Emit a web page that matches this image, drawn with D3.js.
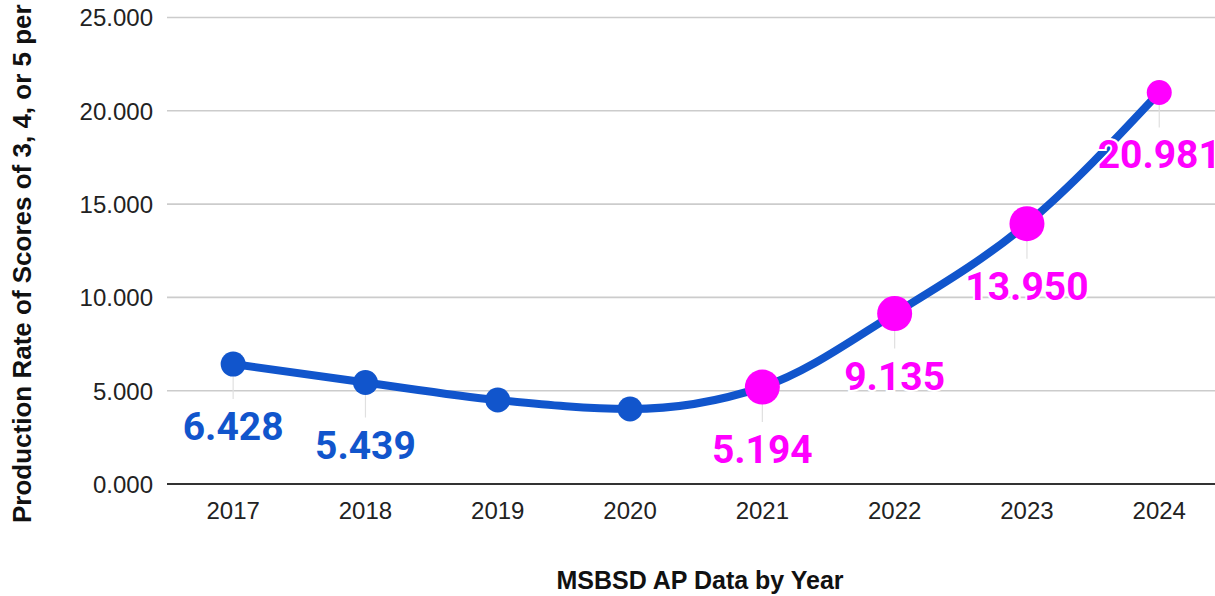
<!DOCTYPE html>
<html>
<head>
<meta charset="utf-8">
<script src="https://cdn.jsdelivr.net/npm/d3@7"></script>
<style>
  html, body { margin: 0; padding: 0; background: #fff; overflow: hidden; }
  svg { display: block; }
</style>
</head>
<body>
<svg id="chart" width="1215" height="596"></svg>
<script>
const years = ["2017", "2018", "2019", "2020", "2021", "2022", "2023", "2024"];
const values = [6.428, 5.439, 4.50, 4.02, 5.194, 9.135, 13.950, 20.981];
const pointColors = ["#1155cc", "#1155cc", "#1155cc", "#1155cc", "#ff00ff", "#ff00ff", "#ff00ff", "#ff00ff"];
const pointSizes = [12.5, 12.5, 12.5, 12.5, 17.5, 17.5, 17.5, 12.5];
const labelShown = [true, true, false, false, true, true, true, true];
const yTicks = [0, 5, 10, 15, 20, 25];
const xTitle = "MSBSD AP Data by Year";
const yTitle = "Production Rate of Scores of 3, 4, or 5 per";

const W = 1215, H = 596;
const svg = d3.select("#chart");

const x = d3.scaleBand().domain(years).range([167, 1225.4]);
const y = d3.scaleLinear().domain([0, 25]).range([484, 17.5]);
const cx = d => x(d) + x.bandwidth() / 2;

// gridlines
svg.append("g").selectAll("line").data(yTicks.filter(t => t !== 0)).join("line")
  .attr("x1", 167).attr("x2", W)
  .attr("y1", d => y(d)).attr("y2", d => y(d))
  .attr("stroke", "#cccccc").attr("stroke-width", 1.6);

// y axis labels
const yAxis = d3.axisLeft(y).tickValues(yTicks).tickFormat(d3.format(".3f")).tickSize(0).tickPadding(14);
const gy = svg.append("g").attr("transform", "translate(167,0)").call(yAxis);
gy.select(".domain").remove();
gy.selectAll("text").attr("font-family", "'Liberation Sans', Arial, sans-serif")
  .attr("font-size", 24).attr("fill", "#222").attr("dy", "0.35em");

// x axis
const xAxis = d3.axisBottom(x).tickSize(0).tickPadding(18);
const gx = svg.append("g").attr("transform", "translate(0,484)").call(xAxis);
gx.select(".domain").remove();
gx.selectAll("text").attr("font-family", "'Liberation Sans', Arial, sans-serif")
  .attr("font-size", 24).attr("fill", "#222");
svg.append("line").attr("x1", 167).attr("x2", W).attr("y1", y(0)).attr("y2", y(0))
  .attr("stroke", "#333").attr("stroke-width", 2);

const data = years.map((yr, i) => ({ yr, v: values[i], c: pointColors[i], r: pointSizes[i], show: labelShown[i] }));

// leader lines
svg.append("g").selectAll("line").data(data.filter(d => d.show)).join("line")
  .attr("x1", d => cx(d.yr)).attr("x2", d => cx(d.yr))
  .attr("y1", d => y(d.v)).attr("y2", d => y(d.v) + 35)
  .attr("stroke", "#e0e0e0").attr("stroke-width", 1.2);

// line
const line = d3.line().x(d => cx(d.yr)).y(d => y(d.v)).curve(d3.curveMonotoneX);
svg.append("path").datum(data).attr("d", line)
  .attr("fill", "none").attr("stroke", "#1155cc").attr("stroke-width", 8)
  .attr("stroke-linejoin", "round");

// points
svg.append("g").selectAll("circle").data(data).join("circle")
  .attr("cx", d => cx(d.yr)).attr("cy", d => y(d.v)).attr("r", d => d.r)
  .attr("fill", d => d.c);

// labels
svg.append("g").selectAll("text").data(data.filter(d => d.show)).join("text")
  .attr("x", d => cx(d.yr)).attr("y", d => y(d.v) + 76)
  .attr("text-anchor", "middle")
  .attr("font-family", "Roboto, sans-serif").attr("font-weight", "bold").attr("font-size", 39)
  .attr("fill", d => d.c)
  .attr("stroke", "#fff").attr("stroke-width", 4).attr("paint-order", "stroke")
  .text(d => d3.format(".3f")(d.v));

// axis titles
svg.append("text").attr("x", 700).attr("y", 589).attr("text-anchor", "middle")
  .attr("font-family", "'Liberation Sans', Arial, sans-serif").attr("font-weight", "bold")
  .attr("font-size", 25).attr("fill", "#111").text(xTitle);

svg.append("text").attr("transform", "translate(31,523) rotate(-90)")
  .attr("text-anchor", "start")
  .attr("font-family", "'Liberation Sans', Arial, sans-serif").attr("font-weight", "bold")
  .attr("font-size", 26).attr("fill", "#111").text(yTitle);
</script>
</body>
</html>
